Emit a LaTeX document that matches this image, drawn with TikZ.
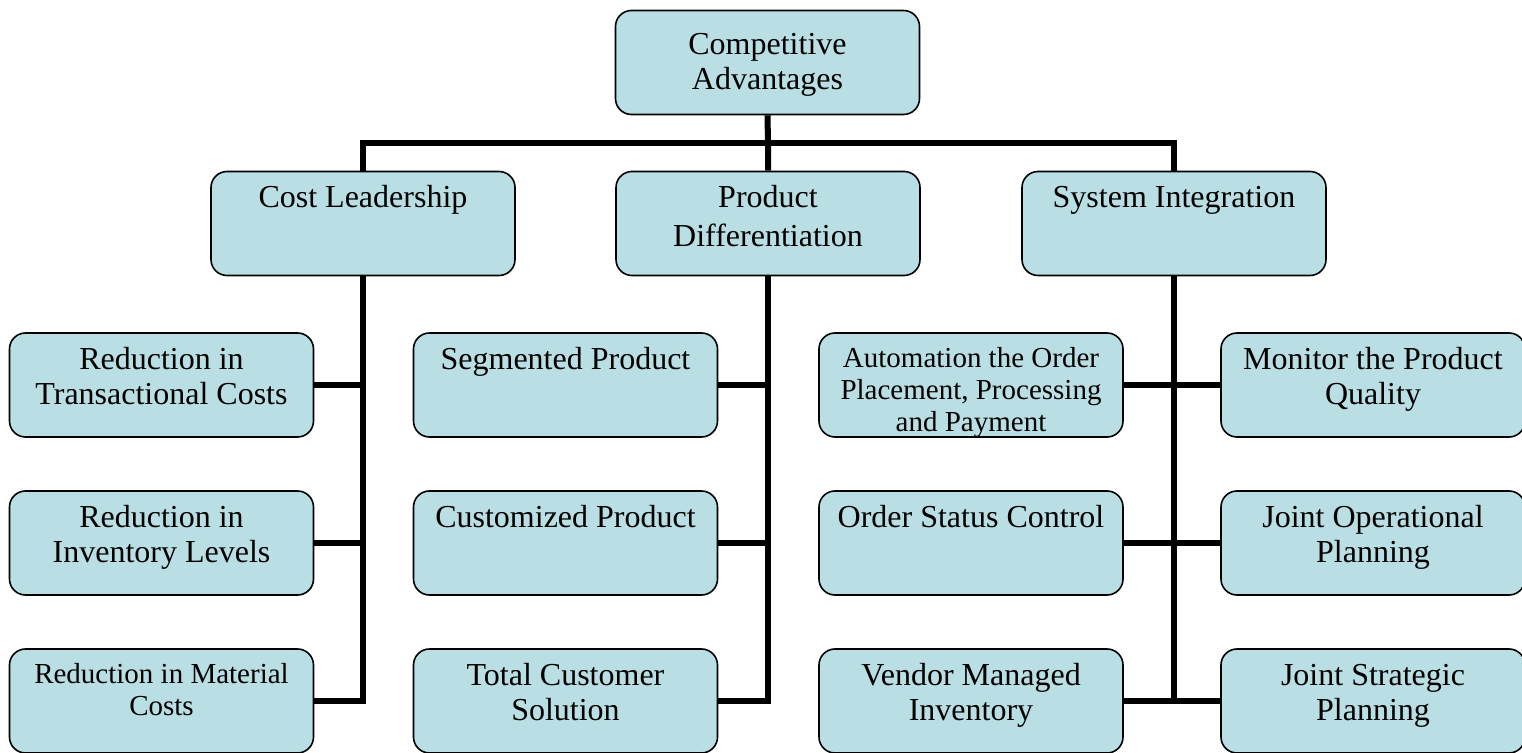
\documentclass[tikz,border=0pt]{standalone}
\usepackage{fontspec}
\setmainfont{Liberation Serif}
\usepackage{xcolor}
\definecolor{boxfill}{RGB}{185,223,228}

% text sits at the top of each box, optional extra gap above it
\newcommand{\boxtxt}[2][0pt]{\parbox[c][40pt][t]{148pt}{\vspace*{#1}\centering\strut #2}}

\begin{document}
\begin{tikzpicture}[x=0.5pt, y=-0.5pt,
	box/.style = {draw, line width=.8pt, fill=boxfill, rounded corners=8pt,
		minimum width=152pt, minimum height=52pt, inner xsep=2pt, inner ysep=6pt,
		font=\fontsize{16}{17.5}\selectfont},
	smalltxt/.style = {font=\fontsize{14.5}{16}\selectfont},
	link/.style = {line width=3pt}]
	\useasboundingbox (0,0) rectangle (1522,753);

	% top and first level
	\node[box] (adv) at (767.5,62.5) {\boxtxt[4pt]{Competitive\\Advantages}};
	\node[box] (cost) at (363,223.5) {\boxtxt{Cost Leadership}};
	\node[box] (prod) at (768,223.5) {\boxtxt{Product\\[2pt]Differentiation}};
	\node[box] (sys) at (1174,223.5) {\boxtxt{System Integration}};
	\coordinate (bar) at (768,143);

	% cost leadership
	\node[box] (trans) at (161.5,385) {\boxtxt{Reduction in\\Transactional Costs}};
	\node[box] (inv) at (161.5,543) {\boxtxt{Reduction in\\Inventory Levels}};
	\node[box, smalltxt] (mat) at (161.5,701) {\boxtxt{Reduction in Material\\Costs}};

	% product differentiation
	\node[box] (seg) at (565.5,385) {\boxtxt{Segmented Product}};
	\node[box] (cust) at (565.5,543) {\boxtxt{Customized Product}};
	\node[box] (total) at (565.5,701) {\boxtxt{Total Customer\\Solution}};

	% system integration
	\node[box, smalltxt] (auto) at (971,385) {\boxtxt{Automation the Order\\Placement, Processing\\and Payment}};
	\node[box] (status) at (971,543) {\boxtxt{Order Status Control}};
	\node[box] (vmi) at (971,701) {\boxtxt{Vendor Managed\\Inventory}};
	\node[box] (mon) at (1373,385) {\boxtxt{Monitor the Product\\Quality}};
	\node[box] (jop) at (1373,543) {\boxtxt{Joint Operational\\Planning}};
	\node[box] (jsp) at (1373,701) {\boxtxt{Joint Strategic\\Planning}};

	\draw[link] (adv.south) -- (bar) -- (prod.north);
	\draw[link] (cost.north) |- (bar) -| (sys.north);

	\draw[link] (cost.south) |- (mat.east);
	\draw[link] (trans.east) -- (trans.east -| cost.south);
	\draw[link] (inv.east) -- (inv.east -| cost.south);

	\draw[link] (prod.south) |- (total.east);
	\draw[link] (seg.east) -- (seg.east -| prod.south);
	\draw[link] (cust.east) -- (cust.east -| prod.south);

	\draw[link] (sys.south) -- (sys.south |- vmi.east);
	\draw[link] (auto.east) -- (mon.west);
	\draw[link] (status.east) -- (jop.west);
	\draw[link] (vmi.east) -- (jsp.west);
\end{tikzpicture}
\end{document}
